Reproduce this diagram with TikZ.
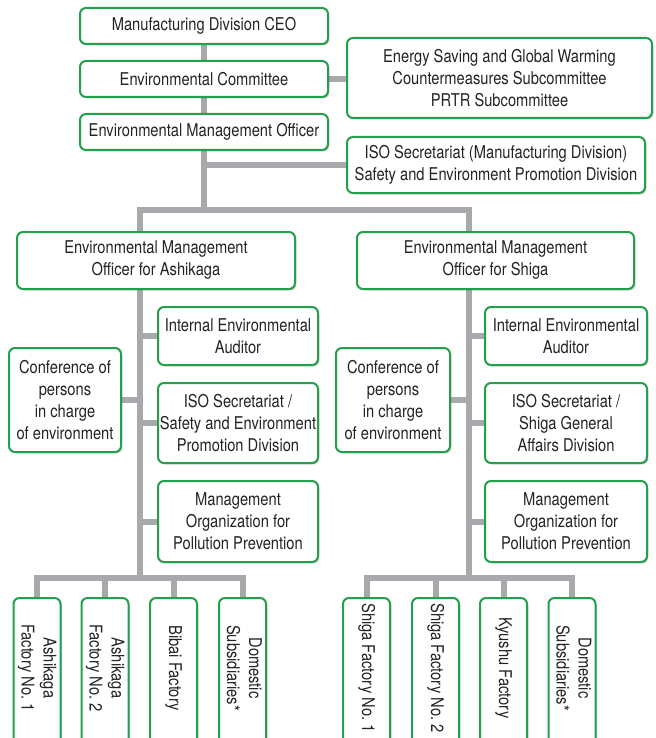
\documentclass[tikz,border=0pt]{standalone}
\usepackage{fontspec}
\setmainfont{TeX Gyre Heros}[FakeStretch=0.835]
\usetikzlibrary{shadows,backgrounds}
\definecolor{boxgreen}{RGB}{35,160,75}
\definecolor{conngray}{RGB}{167,169,172}
\definecolor{txtgray}{RGB}{35,35,35}
\tikzset{
 orgbox/.style={draw=boxgreen, line width=1.5pt, fill=white, rounded corners=4.5pt,
   inner sep=0pt, align=center, text=txtgray, font=\fontsize{13.2pt}{16.5pt}\selectfont,
   drop shadow={shadow xshift=1pt, shadow yshift=-1pt, opacity=0.22, fill=black}},
 topbox/.style={orgbox, minimum width=186pt, minimum height=27pt},
 sidebox/.style={orgbox, minimum width=120pt},
 confbox/.style={orgbox, minimum width=84pt, minimum height=78pt},
 factbox/.style={orgbox, rotate=-90, minimum width=127.5pt, minimum height=35.25pt},
 conn/.style={draw=conngray, line width=4.5pt},
}
\newcommand{\facttext}[1]{\begin{tabular}{@{}c@{\hspace{22.5pt}}}#1\end{tabular}}
\begin{document}
\begin{tikzpicture}[x=0.75pt,y=-0.75pt]
\useasboundingbox (0,0) rectangle (656,738);
\clip (0,0) rectangle (656,738);
% top
\node[topbox] (ceo) at (204,26) {Manufacturing Division CEO};
\node[topbox] (com) at (204,79) {Environmental Committee};
\node[topbox] (off) at (204,132) {Environmental Management Officer};
\node[orgbox, minimum width=228.75pt, minimum height=60pt] (sub) at (499.5,78)
  {Energy Saving and Global Warming\\Countermeasures Subcommittee\\PRTR Subcommittee};
\node[orgbox, minimum width=223.5pt, minimum height=42pt] (iso) at (496,165)
  {ISO Secretariat (Manufacturing Division)\\Safety and Environment Promotion Division};
\coordinate (split) at (204,210);
\coordinate (ashT) at (140,210);
\coordinate (shiT) at (469,210);
% second level
\node[orgbox, minimum width=208.5pt, minimum height=42.75pt] (ash) at (156,260.5)
  {Environmental Management\\Officer for Ashikaga};
\node[orgbox, minimum width=207.75pt, minimum height=42.75pt] (shi) at (495.5,260.5)
  {Environmental Management\\Officer for Shiga};
\coordinate (ashB) at (140,578);
\coordinate (shiB) at (469,578);
% Ashikaga side
\node[sidebox, minimum height=43.5pt] (audA) at (238,336) {Internal Environmental\\Auditor};
\node[sidebox, minimum height=60pt] (isoA) at (238,423) {ISO Secretariat /\\Safety and Environment\\Promotion Division};
\node[sidebox, minimum height=60.75pt] (mgA) at (238,521.5) {Management\\Organization for\\Pollution Prevention};
\node[confbox] (confA) at (65,400) {Conference of\\persons\\in charge\\of environment};
% Shiga side
\node[sidebox, minimum width=121.5pt, minimum height=43.5pt] (audS) at (566,336) {Internal Environmental\\Auditor};
\node[sidebox, minimum width=121.5pt, minimum height=60pt] (isoS) at (566,423) {ISO Secretariat /\\Shiga General\\Affairs Division};
\node[sidebox, minimum width=121.5pt, minimum height=60.75pt] (mgS) at (566,521.5) {Management\\Organization for\\Pollution Prevention};
\node[confbox, minimum width=85.5pt] (confS) at (393,400) {Conference of\\persons\\in charge\\of environment};
% factories
\node[factbox] (fa1) at (37,683) {\facttext{Ashikaga\\Factory No.~1}};
\node[factbox] (fa2) at (105,683) {\facttext{Ashikaga\\Factory No.~2}};
\node[factbox] (fa3) at (173.5,683) {\facttext{Bibai Factory}};
\node[factbox] (fa4) at (242.5,683) {\facttext{Domestic\\Subsidiaries*}};
\node[factbox] (fs1) at (366.5,683) {\facttext{Shiga Factory No.~1}};
\node[factbox] (fs2) at (435.5,683) {\facttext{Shiga Factory No.~2}};
\node[factbox] (fs3) at (503.5,683) {\facttext{Kyushu Factory}};
\node[factbox] (fs4) at (572,683) {\facttext{Domestic\\Subsidiaries*}};
% connectors
\begin{scope}[on background layer]
\draw[conn] (ceo.south) -- (com.north);
\draw[conn] (com.south) -- (off.north);
\draw[conn] (off.south) -- (split);
\draw[conn] (com.east) -- (com.east -| sub.west);
\draw[conn] (iso.west) -- (iso.west -| off.south);
\draw[conn] (ash.north -| ashT) -- (ashT) -- (shiT) -- (shi.north -| shiT);
\draw[conn] (ash.south -| ashT) -- (ashB);
\draw[conn] (shi.south -| shiT) -- (shiB);
\foreach \n in {audA,isoA,mgA} \draw[conn] (\n.west) -- (\n.west -| ashT);
\foreach \n in {audS,isoS,mgS} \draw[conn] (\n.west) -- (\n.west -| shiT);
\draw[conn] (confA.east) -- (confA.east -| ashT);
\draw[conn] (confS.east) -- (confS.east -| shiT);
\draw[conn] (fa1.west) -- (fa1.west |- ashB) -- (fa4.west |- ashB) -- (fa4.west);
\draw[conn] (fa2.west) -- (fa2.west |- ashB);
\draw[conn] (fa3.west) -- (fa3.west |- ashB);
\draw[conn] (fs1.west) -- (fs1.west |- shiB) -- (fs4.west |- shiB) -- (fs4.west);
\draw[conn] (fs2.west) -- (fs2.west |- shiB);
\draw[conn] (fs3.west) -- (fs3.west |- shiB);
\end{scope}
\end{tikzpicture}
\end{document}
